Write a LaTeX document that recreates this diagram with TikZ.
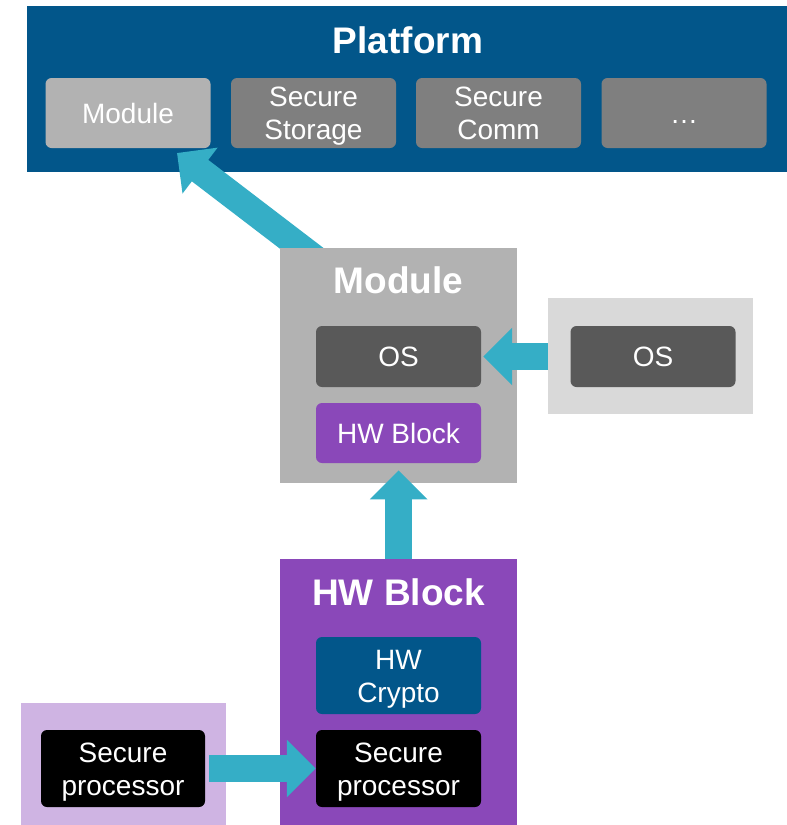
\documentclass[tikz,border=0pt]{standalone}
\usepackage{fontspec}
\setmainfont{Liberation Sans}
\usetikzlibrary{arrows.meta}

\definecolor{platblue}{HTML}{02568A}
\definecolor{modgrey}{HTML}{B2B2B2}
\definecolor{midgrey}{HTML}{7F7F7F}
\definecolor{osgrey}{HTML}{595959}
\definecolor{palegrey}{HTML}{D9D9D9}
\definecolor{hwpurple}{HTML}{8A48B9}
\definecolor{lilac}{HTML}{CFB4E3}
\definecolor{teal}{HTML}{35AEC6}

% line strut, so that two-line labels sit like one-line ones
\newcommand{\ls}{\rule[-6.5pt]{0pt}{33pt}}

\tikzset{
  frame/.style={inner sep=0pt, anchor=north west},
  box/.style={rounded corners=6pt, inner sep=0pt, minimum width=165pt, text=white, align=center,
              font=\fontsize{28}{33}\selectfont},
  title/.style={inner sep=0pt, anchor=base, text=white, font=\fontsize{37}{40}\selectfont\bfseries},
  fat/.style={draw=teal, line width=27pt, -{Triangle[length=29pt,width=56pt]}}
}

\begin{document}
\begin{tikzpicture}[x=1pt,y=-1pt]
\useasboundingbox (0,0) rectangle (787,825);

% platform
\node[frame, fill=platblue, minimum width=760pt, minimum height=166pt] (platform) at (27,6) {};
\node[title] (plattitle) at (408,53) {Platform};
\node[box, fill=modgrey, minimum height=70pt] (pmodule) at (128,113) {\ls Module};
\node[box, fill=midgrey, minimum height=70pt] (pstorage) at (313.5,113) {\ls Secure\\\ls Storage};
\node[box, fill=midgrey, minimum height=70pt] (pcomm) at (498.5,113) {\ls Secure\\\ls Comm};
\node[box, fill=midgrey, minimum height=70pt] (pmore) at (684,113) {\ls …};

\coordinate (tipA) at (177,153);
\draw[fat] (317,260) -- (tipA);

% module
\node[frame, fill=modgrey, minimum width=237pt, minimum height=235pt] (module) at (280,248) {};
\node[title] (modtitle) at (398.5,293) {Module};
\node[box, fill=osgrey, minimum height=61pt] (os) at (398.5,356.5) {\ls OS};
\node[box, fill=hwpurple, minimum height=60pt] (mhw) at (398.5,433) {\ls HW Block};

\node[frame, fill=palegrey, minimum width=205pt, minimum height=116pt] (osside) at (548,298) {};
\node[box, fill=osgrey, minimum height=61pt] (osext) at (653,356.5) {\ls OS};
\draw[fat] (osside.west |- os) -- ([xshift=2pt]os.east);

% hw block
\node[frame, fill=hwpurple, minimum width=237pt, minimum height=266pt] (hwblock) at (280,559) {};
\node[title] (hwtitle) at (398.5,605) {HW Block};
\node[box, fill=platblue, minimum height=77pt] (crypto) at (398.5,675.5) {\ls HW\\\ls Crypto};
\node[box, fill=black, minimum height=77pt] (spin) at (398.5,768.5) {\ls Secure\\\ls processor};
\draw[fat] (hwblock.north) -- ([yshift=13pt]module.south);

\node[frame, fill=lilac, minimum width=205pt, minimum height=122pt] (spside) at (21,703) {};
\node[box, fill=black, minimum width=164pt, minimum height=77pt] (spext) at (123,768.5) {\ls Secure\\\ls processor};
\draw[fat] ([xshift=4pt]spext.east) -- (spin.west);

\end{tikzpicture}
\end{document}
